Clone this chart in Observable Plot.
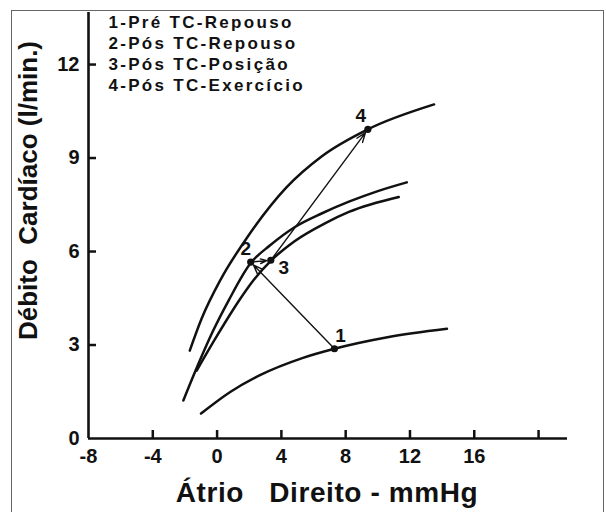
<!DOCTYPE html>
<html><head><meta charset="utf-8">
<script src="https://cdn.jsdelivr.net/npm/d3@7"></script>
<script src="https://cdn.jsdelivr.net/npm/@observablehq/plot@0.6"></script>
<style>
html,body{margin:0;padding:0;background:#fff;}
#wrap{position:relative;width:606px;height:512px;overflow:hidden;}
#border{position:absolute;left:11px;top:10px;width:591px;height:520px;border:1px solid #666;}
#chart{position:absolute;left:0;top:0;}
</style></head><body>
<div id="wrap"><div id="border"></div><div id="chart"></div></div>
<script>
// ---- data ----
const xTickLabels = [-8, -4, 0, 4, 8, 12, 16];
const xTickMarks = [-4, 0, 4, 8, 12, 16, 20];
const yTickLabels = [0, 3, 6, 9, 12];
const yTickMarks = [3, 6, 9, 12];

const xTitle = "Átrio\u00a0\u00a0\u00a0Direito\u00a0-\u00a0mmHg";
const yTitle = "Débito\u00a0\u00a0Cardíaco\u00a0(l/min.)";
const legendLabels = ["1-Pré TC-Repouso", "2-Pós TC-Repouso", "3-Pós TC-Posição", "4-Pós TC-Exercício"];

// curve 1: pré TC repouso
const curve1X = [-1.0, 0.84, 2.7, 5.3, 7.3, 10.6, 14.3];
const curve1Y = [0.8, 1.5, 2.04, 2.58, 2.88, 3.25, 3.52];
// curve 2: pós TC repouso
const curve2X = [-2.1, -1.2, -0.3, 0.74, 2.09, 3.3, 4.82, 6.5, 8.2, 10.0, 11.8];
const curve2Y = [1.22, 2.35, 3.4, 4.45, 5.63, 6.2, 6.78, 7.22, 7.6, 7.94, 8.22];
// curve 3: pós TC posição
const curve3X = [-1.27, 0.0, 1.36, 2.3, 3.34, 4.82, 6.77, 8.2, 11.3];
const curve3Y = [2.18, 3.3, 4.42, 5.1, 5.7, 6.33, 6.92, 7.27, 7.75];
// curve 4: pós TC exercício
const curve4X = [-1.7, -0.96, 0.22, 1.87, 4.3, 6.5, 9.38, 13.5];
const curve4Y = [2.82, 3.85, 5.1, 6.45, 8.05, 9.05, 9.92, 10.72];

// state points 1..4
const pointIds = ["1", "2", "3", "4"];
const pointX = [7.3, 2.09, 3.34, 9.38];
const pointY = [2.88, 5.66, 5.72, 9.92];

// ---- tables built from the arrays ----
const curves = [];
[[curve1X, curve1Y, "1"], [curve2X, curve2Y, "2"], [curve3X, curve3Y, "3"], [curve4X, curve4Y, "4"]]
  .forEach(([xs, ys, id]) => xs.forEach((x, i) => curves.push({id, x, y: ys[i]})));
const points = pointIds.map((id, i) => ({id, x: pointX[i], y: pointY[i]}));
const arrows = [0, 1, 2].map(i => ({x1: pointX[i], y1: pointY[i], x2: pointX[i + 1], y2: pointY[i + 1]}));

const FONT = "'Liberation Sans', Arial, sans-serif";
const INK = "#111";

const labelOffsets = [[6, -13], [-5, -13], [13, 8], [-7, -13]];

const plot = Plot.plot({
  width: 606, height: 512,
  marginLeft: 88, marginRight: 39, marginTop: 12, marginBottom: 74,
  x: {domain: [-8, 21.8]},
  y: {domain: [0, 13.67]},
  style: {background: "transparent", color: INK, fontFamily: FONT},
  marks: [
    Plot.ruleY([0], {stroke: INK, strokeWidth: 2.6}),
    Plot.ruleX([-8], {stroke: INK, strokeWidth: 2.6}),
    Plot.axisX(xTickMarks, {tickSize: -8, tickFormat: () => "", strokeWidth: 2.5, label: null}),
    Plot.axisX(xTickLabels, {tickSize: 0, tickPadding: 10, tickFormat: d => String(d), fontSize: 20, fontWeight: "bold", fontFamily: FONT, label: null}),
    Plot.axisY(yTickMarks, {tickSize: -8, tickFormat: () => "", strokeWidth: 2.5, label: null}),
    Plot.axisY(yTickLabels, {tickSize: 0, tickPadding: 9, tickFormat: d => String(d), fontSize: 20, fontWeight: "bold", fontFamily: FONT, label: null}),
    Plot.line(curves, {x: "x", y: "y", z: "id", curve: "monotone-x", stroke: INK, strokeWidth: 2.5}),
    Plot.arrow(arrows, {x1: "x1", y1: "y1", x2: "x2", y2: "y2", stroke: INK, strokeWidth: 1.4, headLength: 11, headAngle: 40, insetEnd: 4}),
    Plot.dot(points, {x: "x", y: "y", r: 3.6, fill: INK}),
    ...points.map((p, i) => Plot.text([p], {x: "x", y: "y", text: "id", dx: labelOffsets[i][0], dy: labelOffsets[i][1], fontSize: 19, fontWeight: "bold", fontFamily: FONT, fill: INK})),
    Plot.text([xTitle], {frameAnchor: "bottom", lineAnchor: "bottom", dy: 63, dx: -1, fontSize: 28, fontWeight: "bold", fontFamily: FONT, fill: INK}),
    Plot.text([yTitle], {frameAnchor: "left", rotate: -90, lineAnchor: "bottom", textAnchor: "middle", dx: -51.5, dy: -35, fontSize: 26, fontWeight: "bold", fontFamily: FONT, fill: INK}),
    Plot.text([legendLabels.join("\n")], {frameAnchor: "top-left", textAnchor: "start", lineAnchor: "top", lineHeight: 1.25, dx: 20, dy: 0, fontSize: 17, fontWeight: "bold", fontFamily: FONT, fill: INK})
  ]
});
// lettering is spaced wider in the reference
const svg = d3.select(plot);
svg.selectAll("text")
  .filter(function() { return this.textContent.includes(legendLabels[0]); })
  .attr("letter-spacing", 2.3);
svg.selectAll("text")
  .filter(function() { return this.textContent === xTitle; })
  .attr("letter-spacing", 0.6);
document.getElementById("chart").appendChild(plot);
</script>
</body></html>
